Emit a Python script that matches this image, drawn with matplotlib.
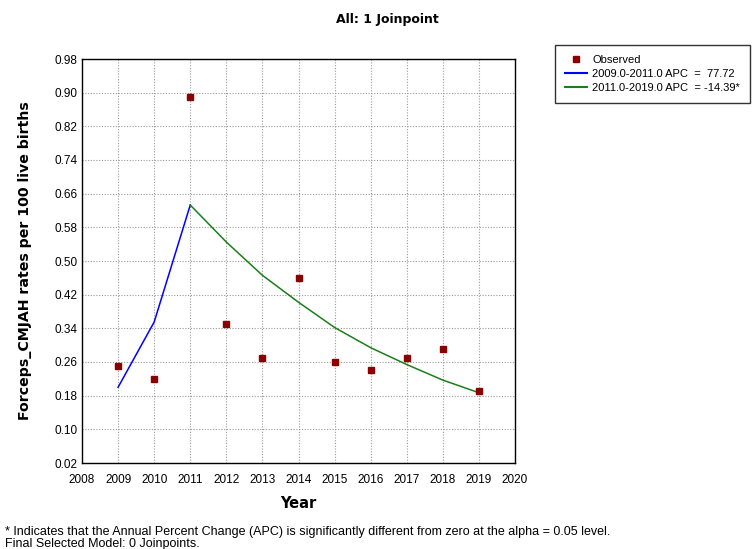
import matplotlib
matplotlib.use("Agg")
import matplotlib.pyplot as plt
from matplotlib.lines import Line2D

# observed rates
years = [2009, 2010, 2011, 2012, 2013, 2014, 2015, 2016, 2017, 2018, 2019]
observed = [0.25, 0.22, 0.89, 0.35, 0.27, 0.46, 0.26, 0.24, 0.27, 0.29, 0.19]

# joinpoint segments
seg1_years = [2009, 2010, 2011]
seg1_fit = [0.20, 0.355, 0.633]
seg2_years = [2011, 2012, 2013, 2014, 2015, 2016, 2017, 2018, 2019]
seg2_fit = [0.633, 0.545, 0.466, 0.402, 0.342, 0.294, 0.254, 0.217, 0.187]

seg_labels = ["2009.0-2011.0 APC  =  77.72", "2011.0-2019.0 APC  = -14.39*"]
xticks = list(range(2008, 2021))
yticks = [0.02, 0.10, 0.18, 0.26, 0.34, 0.42, 0.50, 0.58, 0.66, 0.74, 0.82, 0.90, 0.98]

W, H = 755, 549
fig = plt.figure(figsize=(W / 100, H / 100), dpi=100)
ax = fig.add_axes([82 / W, (H - 463) / H, 433 / W, 404 / H])

tick_font = "Liberation Sans"
ax.plot(seg1_years, seg1_fit, color="#0000ff", lw=1.1, zorder=3)
ax.plot(seg2_years, seg2_fit, color="#1a7f1a", lw=1.1, zorder=3)
ax.plot(years, observed, ls="none", marker="s", ms=5, color="#8b0000", zorder=4)

ax.set_xlim(2008, 2020)
ax.set_ylim(0.02, 0.98)
ax.set_xticks(xticks)
ax.set_yticks(yticks)
ax.set_xticklabels([str(t) for t in xticks], fontsize=8.5, family=tick_font)
ax.set_yticklabels([f"{t:.2f}" for t in yticks], fontsize=8.5, family=tick_font)
ax.tick_params(length=0)
ax.tick_params(axis="x", pad=8)
ax.tick_params(axis="y", pad=3)
ax.grid(True, color="#9a9a9a", ls=(0, (1, 1.5)), lw=0.8)
for s in ax.spines.values():
    s.set_linewidth(1.0)
    s.set_color("black")

ax.set_xlabel("Year", fontsize=10.5, fontweight="bold", family="DejaVu Sans", labelpad=7)
ax.set_ylabel("Forceps_CMJAH rates per 100 live births", fontsize=10.2,
              fontweight="bold", family="DejaVu Sans", labelpad=16)

fig.text(387 / W, 1 - 19 / H, "All: 1 Joinpoint", ha="center", va="center",
         fontsize=9, fontweight="bold", family="DejaVu Sans")

handles = [
    Line2D([], [], ls="none", marker="s", ms=4, color="#8b0000"),
    Line2D([], [], color="#0000ff", lw=1.5),
    Line2D([], [], color="#1a7f1a", lw=1.5),
]
leg = fig.legend(handles, ["Observed"] + seg_labels, loc="upper left",
                 bbox_to_anchor=(555 / W, 1 - 45 / H), frameon=True, fancybox=False,
                 prop={"family": tick_font, "size": 8.0}, handlelength=2.0,
                 handletextpad=0.45, labelspacing=0.35, borderpad=0.9,
                 borderaxespad=0)
leg.get_frame().set_edgecolor("black")
leg.get_frame().set_linewidth(1.0)

fig.text(5 / W, 1 - 532 / H,
         "* Indicates that the Annual Percent Change (APC) is significantly different from zero at the alpha = 0.05 level.",
         ha="left", va="center", fontsize=9, family=tick_font)
fig.text(5 / W, 1 - 544 / H, "Final Selected Model: 0 Joinpoints.",
         ha="left", va="center", fontsize=9, family=tick_font)

fig.savefig("out.png", dpi=100)
